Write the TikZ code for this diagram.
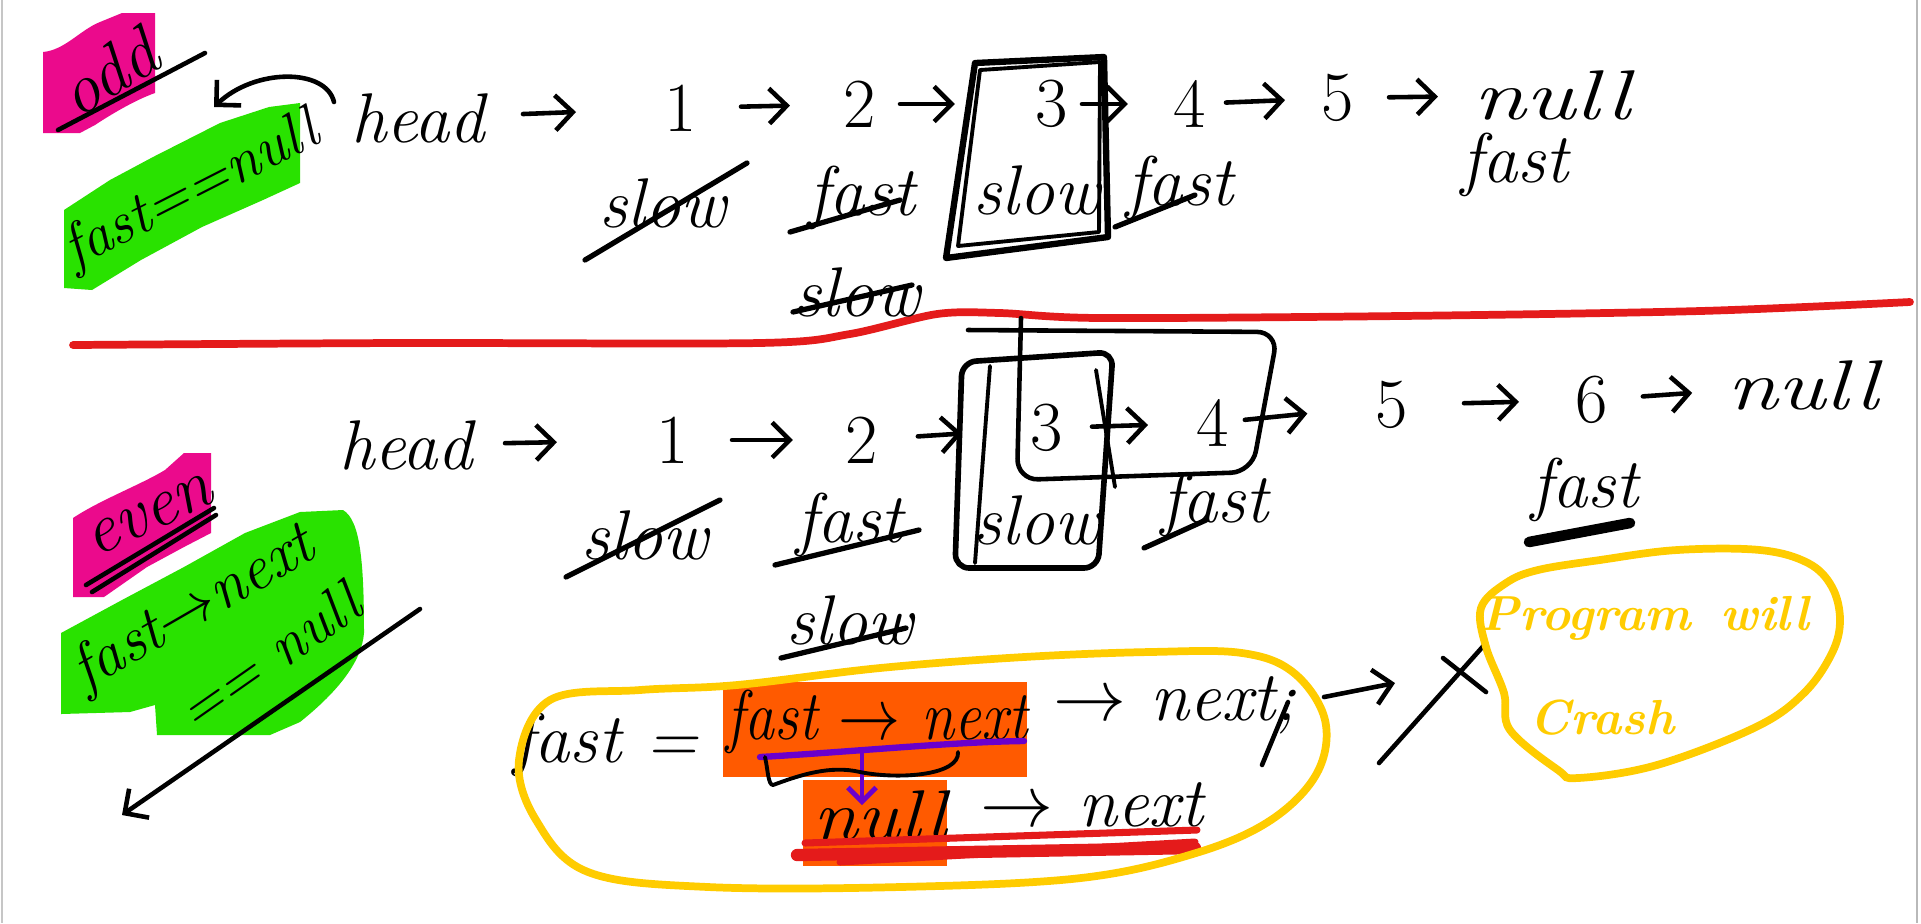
\documentclass[tikz,border=0pt]{standalone}
\usetikzlibrary{arrows.meta}
\definecolor{pinkc}{HTML}{EB0A8C}
\definecolor{greenc}{HTML}{29E200}
\definecolor{orangec}{HTML}{FF5A00}
\definecolor{yellowc}{HTML}{FFCC00}
\definecolor{redc}{HTML}{E41B1B}
\definecolor{purplec}{HTML}{6A00CC}
\newcommand\hwx[2]{\scalebox{#1}[1]{#2}}
\tikzset{
  x=0.01cm, y=-0.01cm,
  hw/.style={font=\fontsize{20}{24}\selectfont\itshape, inner sep=0pt},
  dg/.style={font=\fontsize{20}{24}\selectfont, inner sep=0pt},
  ink/.style={line width=1.3pt, line cap=round, line join=round},
  lnk/.style={ink, -{Straight Barb[length=5pt,width=10pt]}},
  lk/.style 2 args={lnk, shorten <=#1, shorten >=#2},
  strike/.style={ink, line width=1.5pt},
  yloop/.style={draw=yellowc, line width=2.2pt, line cap=round},
}
\begin{document}
\begin{tikzpicture}
\useasboundingbox (0,0) rectangle (1921,923);
\fill[white] (0,0) rectangle (1921,923);
\draw[gray!45, line width=0.8pt] (2,0) -- (2,923);
\draw[gray!55, line width=0.8pt] (1917,0) -- (1917,923);

% ---------- highlight patches ----------
\fill[pinkc] (43,52) .. controls (65,50) and (80,30) .. (100,22) -- (122,13) -- (155,13) -- (155,93)
  .. controls (135,100) and (110,115) .. (95,125) -- (80,133) -- (43,133) -- cycle;
\fill[greenc] (64,210) -- (110,180) -- (153,157) -- (220,123) -- (269,107) -- (300,103) -- (300,183)
  -- (263,200) -- (202,227) -- (141,260) -- (92,290) -- (64,288) -- cycle;
\fill[pinkc] (73,518) .. controls (100,500) and (140,485) .. (165,470) -- (184,453) -- (211,453) -- (211,533)
  -- (184,547) -- (147,567) -- (104,597) -- (73,597) -- cycle;
\fill[greenc] (61,633) -- (122,600) -- (184,567) -- (245,533) -- (300,512) -- (343,510)
  .. controls (360,520) and (364,560) .. (364,633) .. controls (362,660) and (340,690) .. (300,722)
  -- (270,735) -- (157,735) -- (155,705) -- (130,712) -- (61,714) -- cycle;
\fill[orangec] (723,682) rectangle (1027,777);
\fill[orangec] (803,780) rectangle (947,866);

% ---------- divider ----------
\draw[redc, line width=2.2pt, line cap=round] plot[smooth, tension=0.5] coordinates
  {(73,345) (400,343) (759,343) (850,334) (937,314) (1000,313) (1100,318) (1400,316) (1700,311) (1910,302)};

% ---------- top section ----------
\node[hw, rotate=32] (odd) at (108,72) {odd};
\draw[ink] (58,130) -- (205,53);
\node[hw, rotate=27, font=\fontsize{17}{20}\selectfont\itshape] (c1) at (192,192) {fast==null};
\coordinate (ca) at (334,102);
\coordinate (cb) at (214,107);
\draw[lnk] (ca) .. controls (326,68) and (255,68) .. (cb);

\node[hw] (h1) at (418,118) {head};
\node[dg] (a1) at (681,108) {1};
\node[dg] (a2) at (860,104) {2};
\node[dg] (a3) at (1052,104) {3};
\node[dg] (a4) at (1190,104) {4};
\node[dg] (a5) at (1338,98) {5};
\node[hw] (z1) at (1552,95) {\hwx{1.35}{null}};
\draw[lk={1.05cm}{1.05cm}] (h1.center) -- (a1.center);
\draw[lk={0.6cm}{0.7cm}] (a1.center) -- (a2.center);
\draw[lk={0.4cm}{0.97cm}] (a2.center) -- (a3.center);
\draw[lk={0.3cm}{0.62cm}] (a3.center) -- (a4.center);
\draw[lk={0.36cm}{0.53cm}] (a4.center) -- (a5.center);
\draw[lk={0.51cm}{1.14cm}] (a5.center) -- (z1.center);

\draw[ink, line width=1.8pt] (975,63) -- (1104,57) -- (1108,237) -- (946,258) -- cycle;
\draw[ink, line width=1.1pt] (980,70) -- (1100,62) -- (1099,232) -- (958,246) -- cycle;

\node[hw] (s1) at (663,203) {slow};
\draw[strike] (585,260) -- (747,163);
\node[hw] (f1) at (862,198) {fast};
\draw[strike] (790,232) -- (900,200);
\node[hw] (s2) at (857,292) {slow};
\draw[strike] (793,312) -- (912,285);
\node[hw] (s3) at (1037,190) {slow};
\node[hw] (f2) at (1180,188) {fast};
\draw[strike] (1115,227) -- (1195,195);
\node[hw] (f3) at (1515,165) {fast};

% ---------- bottom section ----------
\node[hw, rotate=25] (even) at (150,516) {even};
\draw[ink] (86,585) -- (214,508);
\draw[ink] (92,592) -- (216,515);
\node[hw, rotate=30, font=\fontsize{18}{22}\selectfont\itshape] (c2a) at (194,610) {fast$\to$next};
\node[hw, rotate=35, font=\fontsize{17}{20}\selectfont\itshape] (c2b) at (268,656) {== null};
\coordinate (la) at (420,609);
\coordinate (lb) at (122,815);
\draw[lnk] (la) -- (lb);

\node[hw] (h2) at (406,445) {head};
\node[dg] (b1) at (673,440) {1};
\node[dg] (b2) at (862,440) {2};
\node[dg] (b3) at (1047,428) {3};
\node[dg] (b4) at (1213,423) {4};
\node[dg] (b5) at (1392,405) {5};
\node[dg] (b6) at (1592,400) {6};
\node[hw] (z2) at (1803,385) {\hwx{1.3}{null}};
\draw[lk={0.99cm}{1.16cm}] (h2.center) -- (b1.center);
\draw[lk={0.59cm}{0.69cm}] (b1.center) -- (b2.center);
\draw[lk={0.56cm}{0.85cm}] (b2.center) -- (b3.center);
\draw[lk={0.45cm}{0.65cm}] (b3.center) -- (b4.center);
\draw[lk={0.32cm}{0.85cm}] (b4.center) -- (b5.center);
\draw[lk={0.72cm}{0.73cm}] (b5.center) -- (b6.center);
\draw[lk={0.51cm}{1.11cm}] (b6.center) -- (z2.center);

% boxes round 3 / slow and 3-4
\draw[ink, line width=1.6pt, rounded corners=4pt] (962,362) -- (1113,352) -- (1098,568) -- (955,568) -- cycle;
\draw[ink, line width=1.1pt] (990,366) -- (975,563);
\draw[ink, line width=1.1pt] (1096,370) -- (1115,487);
\draw[ink, line width=1.3pt, rounded corners=6pt] (1021,318) -- (1017,480) -- (1252,472) -- (1278,332) -- (968,330);

\node[hw] (s4) at (645,535) {slow};
\draw[strike] (566,577) -- (720,500);
\node[hw] (f4) at (850,525) {fast};
\draw[strike] (775,565) -- (919,530);
\node[hw] (s5) at (850,620) {slow};
\draw[strike] (781,658) -- (906,628);
\node[hw] (s6) at (1037,520) {slow};
\node[hw] (f5) at (1215,505) {fast};
\draw[strike] (1144,548) -- (1206,520);
\node[hw] (f6) at (1585,490) {fast};
\draw[ink, line width=3pt] (1529,542) -- (1630,523);

% formula
\node[hw] (e1) at (606,745) {fast =};
\node[hw] (e2) at (877,722) {\hwx{0.85}{fast $\to$ next}};
\node[hw] (e3) at (1175,705) {$\to$ next;};
\draw[ink] (1288,702) -- (1262,765);
\node[hw] (e4) at (880,815) {\hwx{1.15}{null}};
\node[hw] (e5) at (1092,805) {$\to$ next};
\draw[purplec, line width=1.8pt, line cap=round] (760,757) .. controls (850,752) and (950,742) .. (1024,741);
\draw[purplec, line width=1.4pt, -{Straight Barb[length=4pt,width=8pt]}] (862,752) -- (862,805);
\draw[ink, line width=1.1pt] (765,757) .. controls (768,770) and (768,785) .. (773,785)
  .. controls (800,775) and (830,765) .. (860,772) .. controls (900,780) and (960,775) .. (958,752);
\draw[redc, line width=3.5pt, line cap=round] (797,855) -- (1195,848);
\draw[redc, line width=2pt, line cap=round] (805,843) -- (1197,830);
\draw[redc, line width=2pt, line cap=round] (840,862) -- (1195,842);

\draw[yloop] plot[smooth cycle, tension=0.6] coordinates
  {(519,760) (550,700) (640,690) (737,685) (880,668) (1024,657) (1150,652) (1242,653) (1294,673)
   (1325,720) (1317,773) (1271,820) (1196,853) (1081,878) (900,887) (708,887) (588,872) (536,820)};

\coordinate (xa) at (1324,697);
\coordinate (xb) at (1395,683);
\draw[lnk] (xa) -- (xb);
\draw[ink] (1379,763) -- (1486,643);
\draw[ink] (1443,658) -- (1486,692);

\draw[yloop] plot[smooth cycle, tension=0.6] coordinates
  {(1481,608) (1506,583) (1538,570) (1600,560) (1677,550) (1760,550) (1808,563) (1832,587) (1840,620)
   (1832,653) (1804,693) (1756,727) (1657,765) (1578,778) (1558,770) (1510,730) (1504,693) (1486,647)};
\node[hw, text=yellowc, font=\fontsize{14}{17}\selectfont\bfseries\itshape] (p1) at (1645,618) {Program\hspace{0.6em}will};
\node[hw, text=yellowc, font=\fontsize{14}{17}\selectfont\bfseries\itshape] (p2) at (1602,718) {Crash};
\end{tikzpicture}
\end{document}
